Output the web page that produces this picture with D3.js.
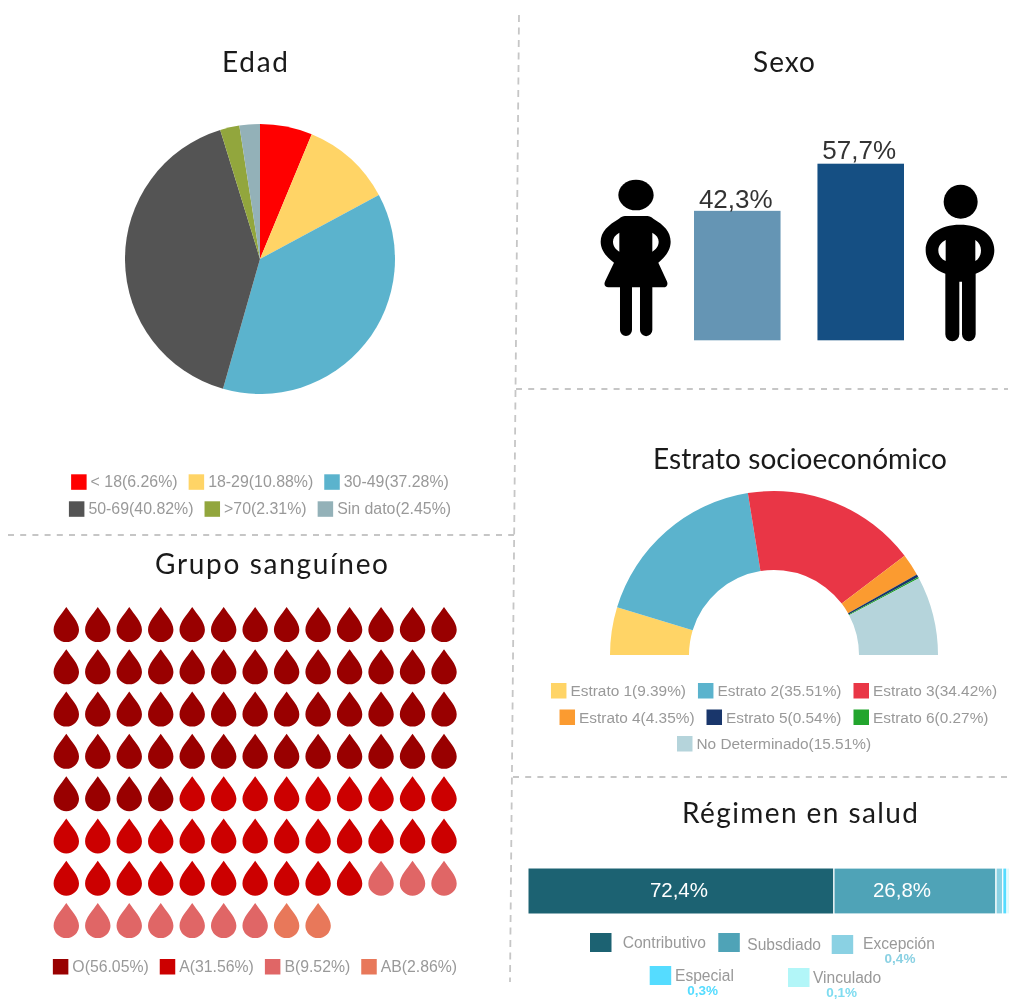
<!DOCTYPE html>
<html><head><meta charset="utf-8">
<script src="https://cdn.jsdelivr.net/npm/d3@7/dist/d3.min.js"></script>
<style>html,body{margin:0;padding:0;background:#fff}svg{display:block;filter:blur(0.4px)}text{font-family:"Liberation Sans",Arial,sans-serif}</style>
</head><body><svg id="c" width="1009" height="1001"></svg>
<script>
// ---- data ----
const edadLabels=["< 18","18-29","30-49","50-69",">70","Sin dato"];
const edadValues=[6.26,10.88,37.28,40.82,2.31,2.45];
const edadColors=["#ff0000","#ffd466","#5bb3cd","#545454","#92a63d","#93b1b8"];
const sexoLabels=["42,3%","57,7%"];
const sexoValues=[42.3,57.7];
const sexoColors=["#6595b4","#154f83"];
const estratoLabels=["Estrato 1","Estrato 2","Estrato 3","Estrato 4","Estrato 5","Estrato 6","No Determinado"];
const estratoValues=[9.39,35.51,34.42,4.35,0.54,0.27,15.51];
const estratoColors=["#ffd466","#5bb3cd","#e93646","#fb9b30","#19366b","#22a52d","#b5d4db"];
const sangreLabels=["O","A","B","AB"];
const sangreValues=[56.05,31.56,9.52,2.86];
const sangreDrops=[56,32,10,2];
const sangreColors=["#990000","#cc0000","#e06666","#e8785a"];
const regimenLabels=["Contributivo","Subsdiado","Excepción","Especial","Vinculado"];
const regimenTexts=["72,4%","26,8%","0,4%","0,3%","0,1%"];
const regimenLengths=[63.6,33.7,1.4,0.9,0.4]; // segment lengths as drawn in the picture
const regimenColors=["#1c6272","#4fa3b7","#8ad1e3","#55dcff","#b2f6f8"];

const svg=d3.select("#c");
const fmt=v=>v.toFixed(2)+"%";

// dividers
[[519,15,510,982,"7 5.5"],[8,535,514,535,"6 6.2"],[516,389,1008,389,"6 6.2"],[513,777,1008,777,"6 6.2"]].forEach(l=>
  svg.append("line").attr("x1",l[0]).attr("y1",l[1]).attr("x2",l[2]).attr("y2",l[3])
   .attr("stroke","#c6c6c6").attr("stroke-width",1.8).attr("stroke-dasharray",l[4]));

// titles
function title(t,x0,x1,y){
  svg.append("text").text(t).attr("x",x0).attr("y",y).attr("textLength",x1-x0).attr("lengthAdjust","spacing")
   .style("font-family","Lato").style("font-size","28px").attr("fill","#1a1a1a");
}
title("Edad",222,288,72);
title("Sexo",753,815,72);
title("Grupo sanguíneo",155,388,574);
title("Estrato socioeconómico",653,947,469);
title("Régimen en salud",682,918,823);

// centred flow legends
function legend(rows,cx,y0,dy,fs,gap){
  rows.forEach((row,ri)=>{
    const g=svg.append("g");
    const y=y0+ri*dy; let x=0;
    row.forEach(it=>{
      g.append("rect").attr("x",x).attr("y",y-7.7).attr("width",15.5).attr("height",15.5).attr("fill",it.c);
      const t=g.append("text").text(it.t).attr("x",x+19.5).attr("y",y+5.3).attr("fill","#999").style("font-size",fs+"px");
      x+=19.5+t.node().getComputedTextLength()+gap;
    });
    g.attr("transform",`translate(${cx-(x-gap)/2},0)`);
  });
}
const items=(L,V,C)=>L.map((l,i)=>({t:l+"("+fmt(V[i])+")",c:C[i]}));

// Edad pie
const pie=d3.pie().sort(null).value(d=>d);
const arcPie=d3.arc().innerRadius(0).outerRadius(135);
svg.append("g").attr("transform","translate(260,259)").selectAll("path").data(pie(edadValues)).join("path")
  .attr("d",arcPie).attr("fill",(d,i)=>edadColors[i]);
const ei=items(edadLabels,edadValues,edadColors);
legend([ei.slice(0,3),ei.slice(3)],260,482,27,15.9,11);

// Sexo bars
const ySexo=d3.scaleLinear().domain([0,57.7]).range([340.3,163.7]);
const xSexo=d3.scaleBand().domain([0,1]).range([694,904]).paddingInner(0.299);
sexoValues.forEach((v,i)=>{
  svg.append("rect").attr("x",xSexo(i)).attr("width",xSexo.bandwidth()).attr("y",ySexo(v)).attr("height",ySexo(0)-ySexo(v)).attr("fill",sexoColors[i]);
  svg.append("text").text(sexoLabels[i]).attr("x",xSexo(i)+xSexo.bandwidth()/2-1.5).attr("y",ySexo(v)-3.5-(i?1:-1))
    .attr("text-anchor","middle").attr("fill","#333").style("font-size","26px");
});
// pictograms
const woman=svg.append("g").attr("transform","translate(590,170) scale(0.3333)");
woman.append("ellipse").attr("cx",138).attr("cy",75).attr("rx",53).attr("ry",46);
woman.append("path").attr("fill-rule","evenodd").attr("d",
 "M105,138 L172,138 C178,138 184,141 190,146 C222,165 242,185 242,215 C242,240 225,262 205,278 L230,332 C236,344 230,352 220,352 L187,352 L187,480 A18.5,18.5 0 0 1 150,480 L150,352 L126,352 L126,480 A18,18 0 0 1 90,480 L90,352 L55,352 C45,352 40,344 46,332 L72,278 C50,262 32,240 32,215 C32,185 55,165 87,146 C93,141 99,138 105,138 Z "+
 "M88,188 C75,195 69,205 69,215 C69,228 77,238 88,245 Z M187,188 L187,245 C198,238 206,228 206,215 C206,205 200,195 187,188 Z");
const man=svg.append("g").attr("transform","translate(915,175) scale(0.3333)");
man.append("circle").attr("cx",137).attr("cy",80).attr("r",51);
man.append("path").attr("fill-rule","evenodd").attr("d",
 "M135,149 C195,149 238,180 238,225 C238,262 212,286 182,296 L182,478 A20.5,20.5 0 0 1 141,478 L141,320 L133,320 L133,478 A21,21 0 0 1 91,478 L91,296 C60,286 32,262 32,225 C32,180 75,149 135,149 Z "+
 "M92,195 C78,202 70,213 70,226 C70,240 78,252 92,258 Z M181,195 L181,258 C192,252 198,240 198,226 C198,213 192,202 181,195 Z");

// Estrato half donut
const half=d3.pie().sort(null).value(d=>d).startAngle(-Math.PI/2).endAngle(Math.PI/2);
const arcHalf=d3.arc().innerRadius(85).outerRadius(164);
svg.append("g").attr("transform","translate(774,655)").selectAll("path").data(half(estratoValues)).join("path")
  .attr("d",arcHalf).attr("fill",(d,i)=>estratoColors[i]);
const si=items(estratoLabels,estratoValues,estratoColors);
legend([si.slice(0,3),si.slice(3,6),si.slice(6)],774,690.7,26.5,15.4,12);

// Grupo sanguineo drops
const perRow=13;
const xDrop=d3.scaleLinear().domain([0,12]).range([66.3,444]);
const yDrop=d3.scaleLinear().domain([0,7]).range([607,903]);
const dropColors=sangreDrops.flatMap((n,i)=>d3.range(n).map(()=>sangreColors[i]));
const dropPath="M0,0 C5,7.5 12.7,15 12.7,22.7 A12.7,12.3 0 1 1 -12.7,22.7 C-12.7,15 -5,7.5 0,0 Z";
svg.append("g").selectAll("path").data(dropColors).join("path")
  .attr("d",dropPath).attr("fill",d=>d)
  .attr("transform",(d,i)=>`translate(${xDrop(i%perRow)},${yDrop(Math.floor(i/perRow))})`);
legend([items(sangreLabels,sangreValues,sangreColors)],255,966.7,0,15.8,11);

// Regimen stacked bar
const xReg=d3.scaleLinear().domain([0,100]).range([528,1009]);
const regTextShift=[-2,-13];
let acc=0;
regimenLengths.forEach((v,i)=>{
  const x0=xReg(acc),x1=xReg(acc+v); acc+=v;
  svg.append("rect").attr("x",x0).attr("y",868).attr("width",x1-x0).attr("height",46)
    .attr("fill",regimenColors[i]).attr("stroke","#fff").attr("stroke-width",i<1?1:1.2);
  if(i<2) svg.append("text").text(regimenTexts[i]).attr("x",(x0+x1)/2+regTextShift[i]).attr("y",896.5)
    .attr("text-anchor","middle").attr("fill","#fff").style("font-size","20.5px");
});
const regLayout=[
 {sx:590,sy:933,tx:622.7,ty:947.7},
 {sx:718.3,sy:933,tx:747.3,ty:950},
 {sx:831.7,sy:935,tx:863,ty:949.3,vx:900,vy:962.7,vc:"#8ad1e3"},
 {sx:649.7,sy:966,tx:675,ty:981,vx:702.7,vy:995,vc:"#55dcff"},
 {sx:788,sy:968,tx:813,ty:983.3,vx:841.7,vy:997,vc:"#7fdcf0"}];
regLayout.forEach((p,i)=>{
  svg.append("rect").attr("x",p.sx).attr("y",p.sy).attr("width",21.5).attr("height",19).attr("fill",regimenColors[i]);
  svg.append("text").text(regimenLabels[i]).attr("x",p.tx).attr("y",p.ty).attr("fill","#999").style("font-size","15.6px");
  if(p.vx) svg.append("text").text(regimenTexts[i]).attr("x",p.vx).attr("y",p.vy).attr("text-anchor","middle")
    .attr("fill",p.vc).style("font-size","13.5px").style("font-weight","bold");
});
</script></body></html>
